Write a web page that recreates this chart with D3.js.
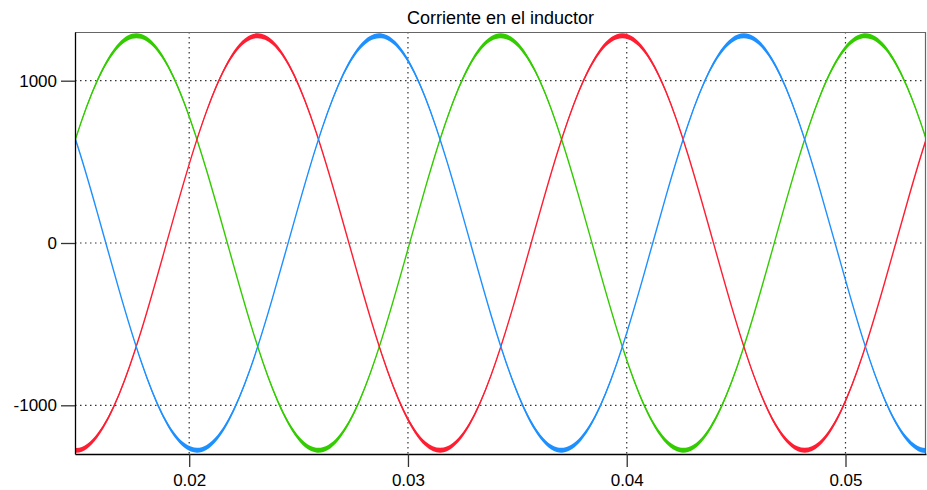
<!DOCTYPE html>
<html>
<head>
<meta charset="utf-8">
<script src="https://cdn.jsdelivr.net/npm/d3@7"></script>
<style>
  html, body { margin: 0; padding: 0; background: #fff; }
  svg { display: block; font-family: "Liberation Sans", Arial, sans-serif; }
</style>
</head>
<body>
<svg id="chart" width="927" height="490"></svg>
<script>
// time samples (s), every 1 ms
var times = [0.0138, 0.0148, 0.0158, 0.0168, 0.0178, 0.0188, 0.0198, 0.0208, 0.0218, 0.0228,
  0.0238, 0.0248, 0.0258, 0.0268, 0.0278, 0.0288, 0.0298, 0.0308, 0.0318, 0.0328,
  0.0338, 0.0348, 0.0358, 0.0368, 0.0378, 0.0388, 0.0398, 0.0408, 0.0418, 0.0428,
  0.0438, 0.0448, 0.0458, 0.0468, 0.0478, 0.0488, 0.0498, 0.0508, 0.0518, 0.0528,
  0.0538, 0.0548];

// phase currents (A)
var phaseA = [-1187, -1277, -1187, -931, -544, -80, 395, 814, 1119, 1267,
  1237, 1033, 684, 239, -239, -684, -1033, -1237, -1267, -1119,
  -814, -395, 80, 544, 931, 1187, 1277, 1187, 931, 544,
  80, -395, -814, -1119, -1267, -1237, -1033, -684, -239, 239,
  684, 1033];
var phaseB = [187, 639, 1001, 1222, 1273, 1144, 854, 445, -27, -495,
  -894, -1167, -1276, -1206, -967, -592, -133, 343, 772, 1092,
  1259, 1249, 1064, 729, 292, -187, -639, -1001, -1222, -1273,
  -1144, -854, -445, 27, 495, 894, 1167, 1276, 1206, 967,
  592, 133];
var phaseC = [1001, 639, 187, -292, -729, -1064, -1249, -1259, -1092, -772,
  -343, 133, 592, 967, 1206, 1276, 1167, 894, 495, 27,
  -445, -854, -1144, -1273, -1222, -1001, -639, -187, 292, 729,
  1064, 1249, 1259, 1092, 772, 343, -133, -592, -967, -1206,
  -1276, -1167];

var xTicks = [0.02, 0.03, 0.04, 0.05];
var yTicks = [-1000, 0, 1000];
var peak = 1277;      // peak current seen on the plot
var rippleMax = 15;   // half-height of the switching ripple at the peaks

var series = [
  { name: "B", values: phaseB, color: "#33cc00" },
  { name: "A", values: phaseA, color: "#ff1e32" },
  { name: "C", values: phaseC, color: "#1e90ff" }
];

var svg = d3.select("#chart");
var margin = { top: 32, right: 1, bottom: 36, left: 75 };
var width = 927 - margin.left - margin.right;
var height = 490 - margin.top - margin.bottom;

var x = d3.scaleLinear().domain([0.01478, 0.05368]).range([0, width]);
var y = d3.scaleLinear().domain([-1300, 1300]).range([height, 0]);

svg.append("text")
  .attr("x", margin.left + width / 2)
  .attr("y", 24)
  .attr("text-anchor", "middle")
  .style("font-size", "18px")
  .style("fill", "#000")
  .text("Corriente en el inductor");

var g = svg.append("g").attr("transform", "translate(" + margin.left + "," + margin.top + ")");

g.append("clipPath").attr("id", "clip")
  .append("rect").attr("width", width).attr("height", height);

// dotted grid
g.append("g").selectAll("line").data(xTicks).enter().append("line")
  .attr("x1", function (d) { return x(d); }).attr("x2", function (d) { return x(d); })
  .attr("y1", 0).attr("y2", height)
  .attr("stroke", "#333").attr("stroke-width", 1.2).attr("stroke-dasharray", "1.5,3.5");
g.append("g").selectAll("line").data(yTicks).enter().append("line")
  .attr("y1", function (d) { return y(d); }).attr("y2", function (d) { return y(d); })
  .attr("x1", 0).attr("x2", width)
  .attr("stroke", "#333").attr("stroke-width", 1.2).attr("stroke-dasharray", "1.5,3.5");

var pts = function (vals) {
  return times.map(function (t, i) { return [t, vals[i]]; });
};
var ripple = function (v) { return rippleMax * Math.pow(Math.abs(v) / peak, 1.6); };

var band = d3.area()
  .x(function (d) { return x(d[0]); })
  .y0(function (d) { return y(d[1] - ripple(d[1])); })
  .y1(function (d) { return y(d[1] + ripple(d[1])); })
  .curve(d3.curveNatural);
var line = d3.line()
  .x(function (d) { return x(d[0]); })
  .y(function (d) { return y(d[1]); })
  .curve(d3.curveNatural);

var plot = g.append("g").attr("clip-path", "url(#clip)");
series.forEach(function (s) {
  var p = pts(s.values);
  plot.append("path").attr("d", band(p)).attr("fill", s.color);
  plot.append("path").attr("d", line(p))
    .attr("fill", "none").attr("stroke", s.color).attr("stroke-width", 1.4);
});

// frame
g.append("line").attr("x1", 0).attr("x2", width).attr("y1", 0.5).attr("y2", 0.5)
  .attr("stroke", "#666").attr("stroke-width", 1.2);
g.append("line").attr("x1", width - 0.5).attr("x2", width - 0.5).attr("y1", 0).attr("y2", height)
  .attr("stroke", "#666").attr("stroke-width", 1.2);

var xAxis = g.append("g").attr("transform", "translate(0," + height + ")")
  .call(d3.axisBottom(x).tickValues(xTicks).tickFormat(String).tickSize(13).tickPadding(7).tickSizeOuter(0));
var yAxis = g.append("g")
  .call(d3.axisLeft(y).tickValues(yTicks).tickFormat(String).tickSize(14).tickPadding(4).tickSizeOuter(0));

[xAxis, yAxis].forEach(function (a) {
  a.select(".domain").attr("stroke", "#000").attr("stroke-width", 1.3);
  a.selectAll(".tick line").attr("stroke", "#333").attr("stroke-width", 1.3);
  a.selectAll(".tick text").style("font-size", "17px").style("fill", "#000")
    .style("font-family", "'Liberation Sans', Arial, sans-serif");
});
</script>
</body>
</html>
